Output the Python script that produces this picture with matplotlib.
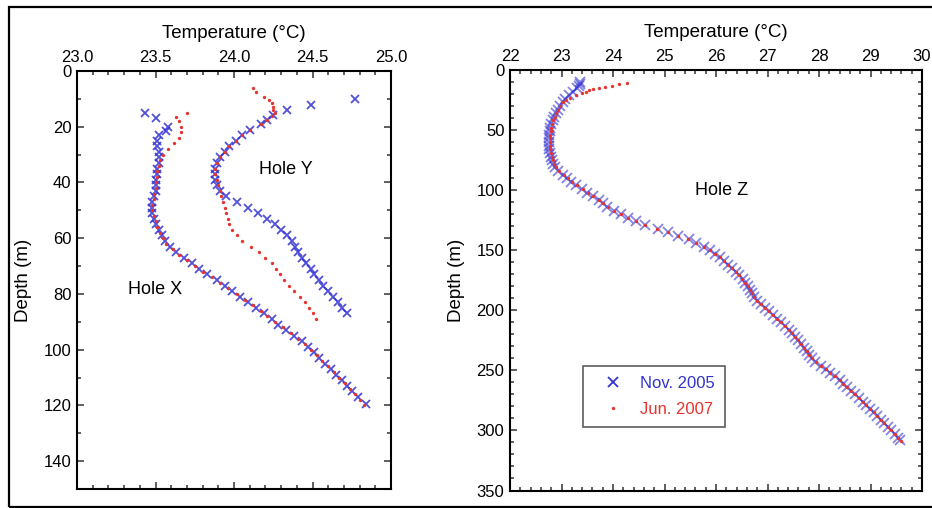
import matplotlib
matplotlib.use("Agg")
import matplotlib.pyplot as plt
from matplotlib.patches import Rectangle
from matplotlib.ticker import MultipleLocator, FormatStrFormatter

plt.rcParams['font.family'] = ['Liberation Sans', 'DejaVu Sans']

# ---------------- data ----------------
# Hole X, Nov. 2005
x_nov_depth = [15, 17, 20, 21.5, 23, 25, 27, 29, 31, 33, 35, 37, 39, 41, 43, 45, 47, 49, 51, 53,
               55, 57, 59, 61, 63, 65, 67, 69, 71, 73, 75, 77, 79, 81, 83, 85, 87, 89, 91, 93,
               95, 97, 99, 101, 103, 105, 107, 109, 111, 113, 115, 117, 119.5]
x_nov_temp = [23.43, 23.50, 23.58, 23.57, 23.52, 23.51, 23.51, 23.52, 23.52, 23.52, 23.51, 23.51,
              23.50, 23.50, 23.50, 23.49, 23.48, 23.48, 23.48, 23.49, 23.50, 23.52, 23.54, 23.56,
              23.59, 23.63, 23.68, 23.73, 23.78, 23.83, 23.89, 23.94, 23.99, 24.04, 24.09, 24.14,
              24.19, 24.24, 24.28, 24.33, 24.38, 24.43, 24.47, 24.51, 24.54, 24.58, 24.62, 24.65,
              24.69, 24.72, 24.75, 24.79, 24.84]
# Hole X, Jun. 2007
x_jun_depth = [15, 16.5, 18, 20, 22, 24, 26, 28, 30, 32, 34, 36, 38, 40, 42, 44, 46, 48, 50, 52,
               54, 56, 58, 60, 62, 64, 66, 68, 70, 72, 74, 76, 78, 80, 82, 84, 86, 88, 90, 92,
               94, 96, 98, 100, 102, 104, 106, 108, 110, 112, 114, 116, 118, 120]
x_jun_temp = [23.70, 23.63, 23.65, 23.66, 23.66, 23.65, 23.62, 23.58, 23.55, 23.53, 23.52, 23.51,
              23.51, 23.50, 23.50, 23.49, 23.49, 23.48, 23.48, 23.49, 23.50, 23.51, 23.53, 23.55,
              23.57, 23.61, 23.65, 23.70, 23.75, 23.80, 23.86, 23.91, 23.96, 24.02, 24.07, 24.12,
              24.17, 24.21, 24.26, 24.31, 24.36, 24.41, 24.45, 24.49, 24.53, 24.56, 24.60, 24.64,
              24.67, 24.71, 24.74, 24.77, 24.80, 24.83]
# Hole Y, Nov. 2005
y_nov_depth = [10, 12.2, 14, 15.8, 17.5, 19, 21, 23, 25, 27, 29, 31, 33, 35, 37, 39, 41, 43, 45,
               47, 49, 51, 53, 55, 57, 59, 61, 63, 65, 67, 69, 71, 73, 75, 77, 79, 81, 83, 85, 87]
y_nov_temp = [24.77, 24.49, 24.34, 24.25, 24.21, 24.17, 24.10, 24.05, 24.01, 23.97, 23.94, 23.91,
              23.89, 23.88, 23.88, 23.88, 23.89, 23.91, 23.95, 24.02, 24.09, 24.15, 24.21, 24.26,
              24.30, 24.34, 24.37, 24.39, 24.41, 24.43, 24.46, 24.49, 24.51, 24.54, 24.57, 24.60,
              24.63, 24.66, 24.69, 24.72]
# Hole Y, Jun. 2007
y_jun_depth = [6.2, 7.5, 9.2, 10.5, 11.6, 13, 14, 15, 16, 17.5, 19, 21, 23, 25, 27, 29, 31, 33,
               35, 37, 39, 41, 43, 45, 47, 49, 51, 53, 55, 57, 59, 61, 63, 65, 67, 69, 71, 73,
               75, 77, 79, 81, 83, 85, 87, 89]
y_jun_temp = [24.12, 24.14, 24.19, 24.22, 24.24, 24.25, 24.25, 24.26, 24.24, 24.21, 24.17, 24.10,
              24.05, 24.01, 23.97, 23.94, 23.91, 23.89, 23.88, 23.88, 23.89, 23.90, 23.91, 23.92,
              23.93, 23.94, 23.95, 23.96, 23.97, 23.99, 24.02, 24.05, 24.11, 24.16, 24.20, 24.24,
              24.27, 24.29, 24.32, 24.35, 24.38, 24.42, 24.45, 24.48, 24.50, 24.52]
# Hole Z, Nov. 2005
z_nov_depth = [10, 11.5, 13, 15, 18, 21, 24, 27, 30, 33, 36, 39, 42, 45, 48, 51, 54, 57, 60, 63,
               66, 69, 72, 75, 78, 81, 84, 87, 90, 93, 96, 99, 102, 105, 108, 111, 114, 117, 120,
               123, 126, 129, 132, 135, 138, 141, 144, 147, 150, 153, 156, 159, 162, 165, 168,
               171, 174, 177, 180, 183, 186, 189, 192, 195, 198, 201, 204, 207, 210, 213, 216,
               219, 222, 225, 228, 231, 234, 237, 240, 243, 246, 249, 252, 255, 258, 261, 264,
               267, 270, 273, 276, 279, 282, 285, 288, 291, 294, 297, 300, 303, 306, 308]
z_nov_temp = [23.36, 23.35, 23.34, 23.30, 23.22, 23.14, 23.07, 23.02, 22.97, 22.93, 22.89, 22.86,
              22.83, 22.80, 22.78, 22.77, 22.76, 22.75, 22.75, 22.75, 22.76, 22.77, 22.79, 22.81,
              22.84, 22.88, 22.94, 23.02, 23.10, 23.19, 23.28, 23.39, 23.50, 23.61, 23.72, 23.81,
              23.89, 24.02, 24.15, 24.29, 24.45, 24.62, 24.87, 25.06, 25.27, 25.47, 25.62, 25.76,
              25.89, 25.99, 26.07, 26.15, 26.24, 26.32, 26.39, 26.45, 26.52, 26.57, 26.62, 26.66,
              26.70, 26.74, 26.80, 26.87, 26.95, 27.03, 27.10, 27.18, 27.26, 27.34, 27.42, 27.48,
              27.54, 27.60, 27.66, 27.71, 27.76, 27.81, 27.86, 27.93, 28.03, 28.13, 28.22, 28.31,
              28.40, 28.47, 28.55, 28.62, 28.70, 28.77, 28.85, 28.92, 28.99, 29.06, 29.13, 29.20,
              29.27, 29.34, 29.40, 29.47, 29.53, 29.57]
# Hole Z, Jun. 2007
z_jun_depth = [11, 12, 13, 14, 15, 16, 17, 18, 19.5, 21, 23, 25, 27, 30, 33, 36, 39, 42, 45, 48,
               51, 54, 57, 60, 63, 66, 69, 72, 75, 78, 81, 84, 87, 90, 93, 96, 99, 102, 105, 108,
               111, 114, 117, 120, 123, 126, 129, 132, 135, 138, 141, 144, 147, 150, 153, 156,
               159, 162, 165, 168, 171, 174, 177, 180, 183, 186, 189, 192, 195, 198, 201, 204,
               207, 210, 213, 216, 219, 222, 225, 228, 231, 234, 237, 240, 243, 246, 249, 252,
               255, 258, 261, 264, 267, 270, 273, 276, 279, 282, 285, 288, 291, 294, 297, 300,
               303, 306, 309]
z_jun_temp = [24.27, 24.12, 23.98, 23.85, 23.73, 23.62, 23.54, 23.47, 23.40, 23.28, 23.17, 23.09,
              23.03, 22.98, 22.94, 22.90, 22.87, 22.84, 22.82, 22.80, 22.79, 22.78, 22.77, 22.77,
              22.77, 22.78, 22.79, 22.81, 22.83, 22.86, 22.90, 22.96, 23.04, 23.12, 23.21, 23.30,
              23.41, 23.52, 23.62, 23.72, 23.81, 23.90, 24.02, 24.15, 24.29, 24.45, 24.62, 24.86,
              25.06, 25.27, 25.46, 25.62, 25.76, 25.88, 25.98, 26.07, 26.15, 26.23, 26.31, 26.38,
              26.45, 26.51, 26.57, 26.62, 26.66, 26.70, 26.74, 26.80, 26.87, 26.95, 27.02, 27.10,
              27.18, 27.26, 27.34, 27.41, 27.48, 27.54, 27.60, 27.66, 27.71, 27.76, 27.81, 27.86,
              27.94, 28.04, 28.13, 28.22, 28.31, 28.40, 28.47, 28.55, 28.62, 28.70, 28.77, 28.85,
              28.92, 28.99, 29.06, 29.13, 29.20, 29.27, 29.34, 29.40, 29.47, 29.53, 29.59]

series_labels = ["Nov. 2005", "Jun. 2007"]
hole_labels = ["Hole X", "Hole Y", "Hole Z"]

BLUE = "#3232d2"
RED = "#e8322e"

# ---------------- figure ----------------
fig = plt.figure(figsize=(9.32, 5.08), dpi=100)
W, H = 932.0, 508.0

def axpos(l, r, t, b):
    return [l / W, 1 - b / H, (r - l) / W, (b - t) / H]

ax1 = fig.add_axes(axpos(77, 391, 71, 489))
ax2 = fig.add_axes(axpos(510, 922, 70, 490.5))

# frame around the figure
fig.patches.append(Rectangle((9 / W, 1.5 / H), 1.2, (506 - 6) / H, transform=fig.transFigure,
                             fill=False, edgecolor="black", linewidth=1.6, clip_on=False))

def style(ax, xmaj, xmin, ymaj, ymin):
    ax.xaxis.set_label_position('top')
    ax.xaxis.tick_top()
    ax.xaxis.set_major_locator(MultipleLocator(xmaj))
    ax.xaxis.set_minor_locator(MultipleLocator(xmin))
    ax.yaxis.set_major_locator(MultipleLocator(ymaj))
    ax.yaxis.set_minor_locator(MultipleLocator(ymin))
    ax.tick_params(which='both', direction='in', top=True, bottom=True, left=True, right=True,
                   labeltop=True, labelbottom=False, labelsize=12, width=1.1, color='#333333')
    ax.tick_params(which='major', length=5, pad=4)
    ax.tick_params(which='minor', length=3)
    for s in ax.spines.values():
        s.set_linewidth(1.5)
    ax.set_xlabel("Temperature (°C)", fontsize=13.5, labelpad=9)
    ax.set_ylabel("Depth (m)", fontsize=13.5, labelpad=8)

# left panel
for temps, depths in [(x_nov_temp, x_nov_depth), (y_nov_temp, y_nov_depth)]:
    ax1.plot(temps, depths, linestyle='none', marker='x', markersize=5.5,
             markeredgewidth=1.3, color=BLUE, alpha=0.85)
for temps, depths in [(x_jun_temp, x_jun_depth), (y_jun_temp, y_jun_depth)]:
    ax1.plot(temps, depths, linestyle='none', marker='o', markersize=2.4,
             markeredgewidth=0, color=RED)
ax1.set_xlim(23.0, 25.0)
ax1.set_ylim(150, 0)
style(ax1, 0.5, 0.1, 20, 10)
ax1.xaxis.set_major_formatter(FormatStrFormatter('%.1f'))
ax1.text(23.5, 78.5, hole_labels[0], fontsize=13, ha='center', va='center')
ax1.text(24.33, 35.5, hole_labels[1], fontsize=13, ha='center', va='center')

# right panel
h_nov, = ax2.plot(z_nov_temp, z_nov_depth, linestyle='none', marker='x', markersize=6.8,
                  markeredgewidth=1.3, color=BLUE, alpha=0.6, label=series_labels[0])
h_jun, = ax2.plot(z_jun_temp, z_jun_depth, linestyle='none', marker='o', markersize=2.4,
                  markeredgewidth=0, color=RED, label=series_labels[1])
ax2.set_xlim(22, 30)
ax2.set_ylim(350, 0)
style(ax2, 1, 0.2, 50, 10)
ax2.text(26.1, 100, hole_labels[2], fontsize=13, ha='center', va='center')

leg = ax2.legend(handles=[h_nov, h_jun], loc='upper left', bbox_to_anchor=(0.176, 0.297),
                 fontsize=12, frameon=True, fancybox=False, edgecolor='#333333',
                 handlelength=2.5, handletextpad=0.35, borderpad=0.6, labelspacing=0.7,
                 borderaxespad=0)
leg.get_frame().set_linewidth(1.2)
for t, c in zip(leg.get_texts(), [BLUE, RED]):
    t.set_color(c)
for lh in leg.legend_handles:
    lh.set_alpha(1.0)

fig.savefig("out.png", dpi=100)
